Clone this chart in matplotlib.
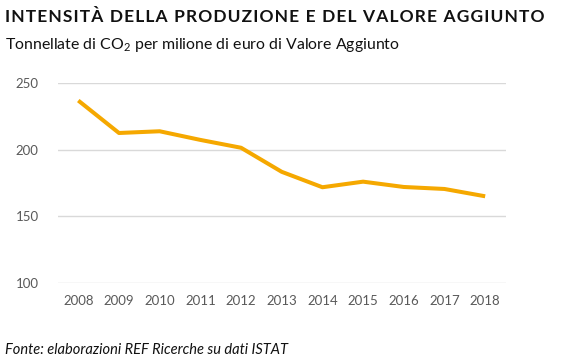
import matplotlib
matplotlib.use("Agg")
import matplotlib.pyplot as plt

years = ["2008", "2009", "2010", "2011", "2012", "2013", "2014", "2015", "2016", "2017", "2018"]
intensita = [237, 212.6, 213.9, 207.4, 201.5, 183.4, 171.8, 176, 172, 170.5, 165]
y_ticks = [100, 150, 200, 250]

title = "INTENSITÀ DELLA PRODUZIONE E DEL VALORE AGGIUNTO"

plt.rcParams['font.family'] = ['Lato', 'DejaVu Sans']
plt.rcParams['mathtext.default'] = 'regular'

fig = plt.figure(figsize=(5.68, 3.62), dpi=100)
ax = fig.add_axes([0.102, 0.219, 0.788, 0.551])

x = list(range(len(years)))
ax.plot(x, intensita, color='#F5A800', lw=2.9, solid_capstyle='butt')

ax.set_xlim(-0.5, len(years) - 0.5)
ax.set_ylim(100, 250)
ax.set_yticks(y_ticks)
ax.set_xticks(x)
ax.set_xticklabels(years)
ax.grid(axis='y', color='#d9d9d9', lw=1)
ax.set_axisbelow(True)
for s in ax.spines.values():
    s.set_visible(False)
ax.tick_params(length=0, labelsize=9.5, labelcolor='#595959')
ax.tick_params(axis='y', pad=14)
ax.tick_params(axis='x', pad=9)

# spaziatura delle lettere nel titolo
spaced = "\u200a".join(title)
fig.text(0.009, 0.953, spaced,
         fontsize=12.5, fontweight='bold', va='center', ha='left', color='#111111')
fig.text(0.009, 0.876, "Tonnellate di CO$_2$ per milione di euro di Valore Aggiunto",
         fontsize=11.4, va='center', ha='left', color='#111111')
fig.text(0.009, 0.033, "Fonte: elaborazioni REF Ricerche su dati ISTAT",
         fontsize=10.5, style='italic', va='center', ha='left', color='#111111')

fig.savefig("out.png", dpi=100)
